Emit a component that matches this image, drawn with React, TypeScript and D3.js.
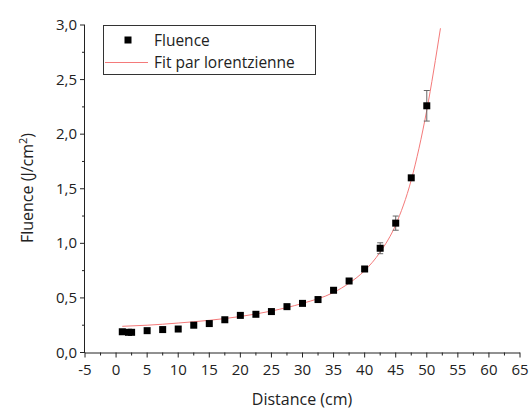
import React from 'react';
import * as d3 from 'd3';

// measured points
const distance = [1, 2, 2.5, 5, 7.5, 10, 12.5, 15, 17.5, 20, 22.5, 25, 27.5, 30, 32.5, 35, 37.5, 40, 42.5, 45, 47.5, 50];
const fluence = [0.19, 0.185, 0.185, 0.2, 0.21, 0.215, 0.25, 0.265, 0.3, 0.34, 0.35, 0.375, 0.42, 0.45, 0.485, 0.57, 0.655, 0.765, 0.955, 1.185, 1.6, 2.26];
const errBar = [0, 0, 0, 0, 0, 0, 0, 0, 0, 0, 0, 0, 0, 0, 0, 0, 0, 0, 0.05, 0.065, 0, 0.14];

// fit curve
const fitX = [1, 5, 10, 15, 20, 25, 30, 35, 37.5, 40, 42.5, 45, 47.5, 50, 52.2];
const fitY = [0.24, 0.25, 0.27, 0.295, 0.33, 0.38, 0.45, 0.55, 0.635, 0.75, 0.92, 1.17, 1.58, 2.22, 2.97];

const xTicks = d3.range(-5, 66, 5);
const yTicks = [0, 0.5, 1, 1.5, 2, 2.5, 3];

const W = 531;
const H = 410;
const font = '"Open Sans", "DejaVu Sans", sans-serif';

export default function App() {
  const x = d3.scaleLinear().domain([-5, 65]).range([85, 520]);
  const y = d3.scaleLinear().domain([0, 3]).range([352.5, 25]);

  const fitLine = d3.line<number>()
    .x((d) => x(d))
    .y((d, i) => y(fitY[i]))
    .curve(d3.curveMonotoneX);

  const fmt = (v: number) => v.toFixed(1).replace('.', ',');
  const xMinor = d3.range(-2.5, 65, 5);
  const yMinor = d3.range(0.25, 3, 0.5);

  return (
    <svg width={W} height={H} style={{ position: 'absolute', left: 0, top: 0, background: '#fff' }} fontFamily={font}>
      {/* fit */}
      <path d={fitLine(fitX) || ''} fill="none" stroke="#f47a7a" strokeWidth={1} />

      {/* error bars */}
      {distance.map((d, i) => errBar[i] > 0 && (
        <g key={'e' + i} stroke="#666" strokeWidth={1}>
          <line x1={x(d)} x2={x(d)} y1={y(fluence[i] - errBar[i])} y2={y(fluence[i] + errBar[i])} />
          <line x1={x(d) - 3} x2={x(d) + 3} y1={y(fluence[i] - errBar[i])} y2={y(fluence[i] - errBar[i])} />
          <line x1={x(d) - 3} x2={x(d) + 3} y1={y(fluence[i] + errBar[i])} y2={y(fluence[i] + errBar[i])} />
        </g>
      ))}

      {/* points */}
      {distance.map((d, i) => (
        <rect key={'p' + i} x={x(d) - 3.5} y={y(fluence[i]) - 3.5} width={7} height={7} fill="#000" />
      ))}

      {/* axes */}
      <g stroke="#222" strokeWidth={1}>
        <line x1={x(-5)} x2={x(65)} y1={y(0) + 0.5} y2={y(0) + 0.5} />
        <line x1={x(-5) - 0.5} x2={x(-5) - 0.5} y1={y(0)} y2={y(3)} />
        {xTicks.map((t) => (
          <line key={'xt' + t} x1={x(t)} x2={x(t)} y1={y(0)} y2={y(0) + 5} />
        ))}
        {xMinor.map((t) => (
          <line key={'xm' + t} x1={x(t)} x2={x(t)} y1={y(0)} y2={y(0) + 3} />
        ))}
        {yTicks.map((t) => (
          <line key={'yt' + t} x1={x(-5) - 5} x2={x(-5)} y1={y(t)} y2={y(t)} />
        ))}
        {yMinor.map((t) => (
          <line key={'ym' + t} x1={x(-5) - 3} x2={x(-5)} y1={y(t)} y2={y(t)} />
        ))}
      </g>

      <g fontSize={15} fill="#222">
        {xTicks.map((t) => (
          <text key={'xl' + t} x={x(t)} y={y(0) + 22} textAnchor="middle">{t}</text>
        ))}
        {yTicks.map((t) => (
          <text key={'yl' + t} x={x(-5) - 8} y={y(t) + 5} textAnchor="end">{fmt(t)}</text>
        ))}
        <text x={302} y={405} textAnchor="middle" fontSize={16}>Distance (cm)</text>
        <text transform="translate(33,188) rotate(-90)" textAnchor="middle" fontSize={16}>
          Fluence (J/cm<tspan dy={-6} fontSize={11}>2</tspan><tspan dy={6}>)</tspan>
        </text>
      </g>

      {/* legend */}
      <rect x={103.5} y={25.5} width={212} height={49} fill="#fff" stroke="#333" strokeWidth={1} />
      <rect x={124.5} y={36.5} width={7} height={7} fill="#000" />
      <line x1={105} x2={148} y1={62.5} y2={62.5} stroke="#f47a7a" strokeWidth={1} />
      <g fontSize={15.5} fill="#222">
        <text x={154} y={46}>Fluence</text>
        <text x={154} y={68}>Fit par lorentzienne</text>
      </g>
    </svg>
  );
}
